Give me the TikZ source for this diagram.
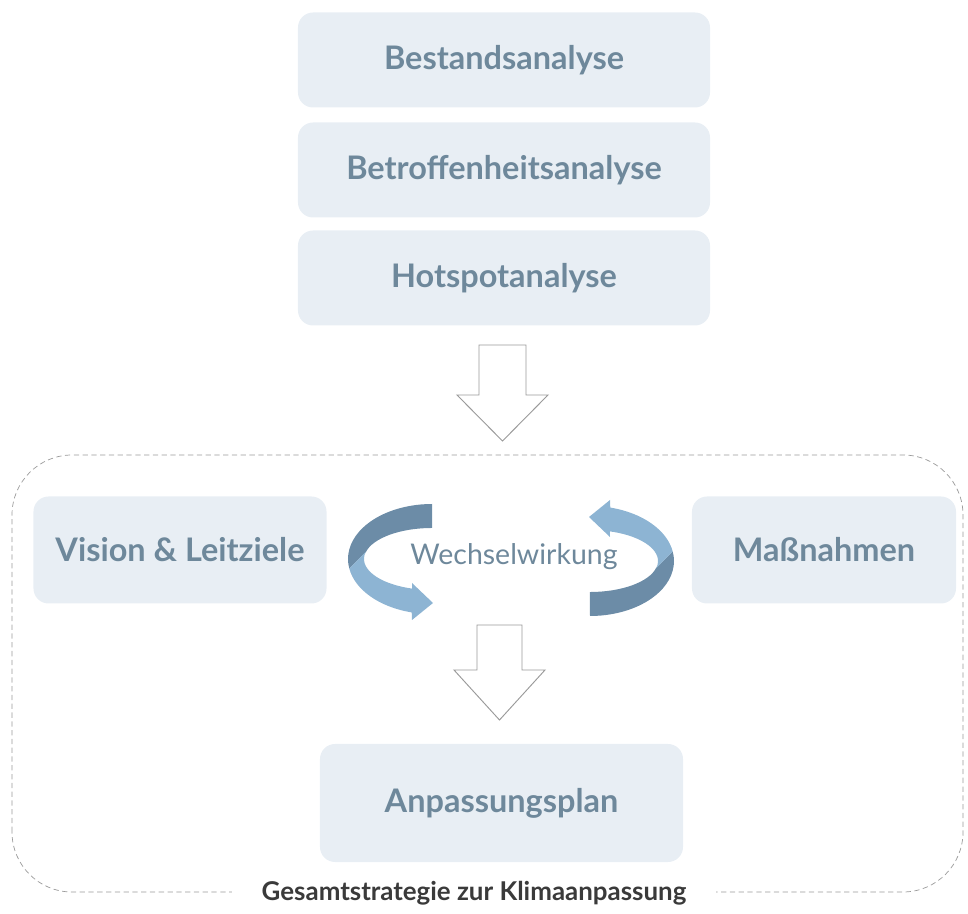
\documentclass[tikz,border=0pt]{standalone}
\usepackage{fontspec}
\setmainfont{Lato}
\definecolor{boxfill}{HTML}{E8EEF4}
\definecolor{boxtext}{HTML}{6E889B}
\definecolor{ribbondark}{HTML}{6C8CA7}
\definecolor{ribbonlight}{HTML}{8DB4D3}
\definecolor{linegray}{HTML}{9A9A9A}
\definecolor{labeltext}{HTML}{3A3A3A}
\tikzset{
	box/.style={rounded corners=0.45cm, fill=boxfill, text=boxtext, inner sep=0pt,
		font=\fontsize{27.7}{33}\selectfont\bfseries},
	blockarrow/.style={draw=linegray, fill=white, line width=0.8pt},
	outerarc/.style={x radius=2.52cm, y radius=1.65cm},
	innerarc/.style={x radius=2.04cm, y radius=0.93cm},
}
\begin{document}
\begin{tikzpicture}[x=0.03cm, y=0.03cm]
	\useasboundingbox (0,0) rectangle (968,914);

	% analysis steps
	\node[box, minimum width=12.36cm, minimum height=2.85cm] (bestand) at (504,854) {Bestandsanalyse};
	\node[box, minimum width=12.36cm, minimum height=2.85cm] (betroff) at (504,744) {Betroffenheitsanalyse};
	\node[box, minimum width=12.36cm, minimum height=2.85cm] (hotspot) at (504,636) {Hotspotanalyse};

	\draw[blockarrow] (479,569) -- (526,569) -- (526,519) -- (548,519) -- (502.5,473) -- (457,519) -- (479,519) -- cycle;

	% overall strategy
	\draw[linegray, line width=0.6pt, dash pattern=on 4.5pt off 3pt, rounded corners=1.8cm] (12,22) rectangle (963,459);

	\node[box, minimum width=8.79cm, minimum height=3.21cm] (vision) at (180,364) {Vision \& Leitziele};
	\node[box, minimum width=7.92cm, minimum height=3.21cm] (massn) at (824,364) {Maßnahmen};
	\node[text=boxtext, font=\fontsize{24.3}{29}\selectfont] (wechsel) at (514,357) {Wechselwirkung};

	% left ribbon (centre 432,355)
	\fill[ribbondark] (432,410) arc[start angle=90, end angle=190, outerarc]
		-- (365.9,362) arc[start angle=167, end angle=90, innerarc] -- cycle;
	\fill[ribbonlight] (349.3,345.4) arc[start angle=190, end angle=256, outerarc]
		-- (412,294) -- (433,311) -- (412,331) -- (412.1,325.4)
		arc[start angle=253, end angle=167, innerarc] -- cycle;

	% right ribbon
	\begin{scope}[rotate around={180:(511,354)}]
	\fill[ribbondark] (432,410) arc[start angle=90, end angle=190, outerarc]
		-- (365.9,362) arc[start angle=167, end angle=90, innerarc] -- cycle;
	\fill[ribbonlight] (349.3,345.4) arc[start angle=190, end angle=256, outerarc]
		-- (412,294) -- (433,311) -- (412,331) -- (412.1,325.4)
		arc[start angle=253, end angle=167, innerarc] -- cycle;
	\end{scope}

	\draw[blockarrow] (477,289) -- (522,289) -- (522,244) -- (545,244) -- (499.5,194) -- (454,244) -- (477,244) -- cycle;

	\node[box, minimum width=10.89cm, minimum height=3.54cm] (plan) at (501.5,111) {Anpassungsplan};

	\node[fill=white, inner xsep=0.9cm, inner ysep=2pt, text=labeltext,
		font=\fontsize{22.1}{27}\selectfont\bfseries] (gesamt) at (474,21) {Gesamtstrategie zur Klimaanpassung};
\end{tikzpicture}
\end{document}
